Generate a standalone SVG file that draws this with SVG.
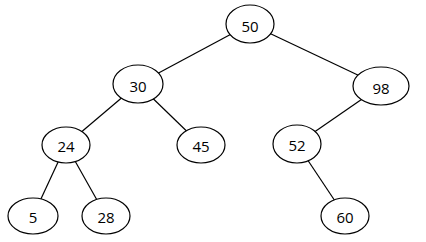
<svg xmlns="http://www.w3.org/2000/svg" width="426" height="242" viewBox="0 0 426 242">
<style>
.e{fill:#fff;stroke:#000;stroke-width:1.2}
.t{font-family:"Open Sans","Liberation Sans",Arial,sans-serif;font-size:15px;fill:#000;text-anchor:middle;dominant-baseline:central}
.c line{stroke:#000;stroke-width:1.2}
</style>
<rect width="426" height="242" fill="#fff"/>
<g class="c" id="connectors">
<line x1="250" y1="24" x2="138" y2="84"/>
<line x1="250" y1="24" x2="381" y2="86"/>
<line x1="138" y1="84" x2="66" y2="145"/>
<line x1="138" y1="84" x2="201" y2="145"/>
<line x1="381" y1="86" x2="297" y2="144"/>
<line x1="66" y1="145" x2="33" y2="216"/>
<line x1="66" y1="145" x2="106" y2="216"/>
<line x1="297" y1="144" x2="345" y2="216"/>
</g>
<g id="n50"><ellipse class="e" cx="250" cy="24" rx="24" ry="19"/><text class="t" x="250" y="25.5">50</text></g>
<g id="n30"><ellipse class="e" cx="138" cy="84" rx="25" ry="19"/><text class="t" x="138" y="85.5">30</text></g>
<g id="n98"><ellipse class="e" cx="381" cy="86" rx="28" ry="19"/><text class="t" x="381" y="87.5">98</text></g>
<g id="n24"><ellipse class="e" cx="66" cy="145" rx="24" ry="18"/><text class="t" x="66" y="146">24</text></g>
<g id="n45"><ellipse class="e" cx="201" cy="145" rx="24" ry="18"/><text class="t" x="201" y="146">45</text></g>
<g id="n52"><ellipse class="e" cx="297" cy="144" rx="24" ry="19"/><text class="t" x="297" y="145">52</text></g>
<g id="n5"><ellipse class="e" cx="33" cy="216" rx="25" ry="18"/><text class="t" x="33" y="217">5</text></g>
<g id="n28"><ellipse class="e" cx="106" cy="216" rx="24" ry="18"/><text class="t" x="106" y="217">28</text></g>
<g id="n60"><ellipse class="e" cx="345" cy="216" rx="24" ry="18"/><text class="t" x="345" y="217">60</text></g>
</svg>
